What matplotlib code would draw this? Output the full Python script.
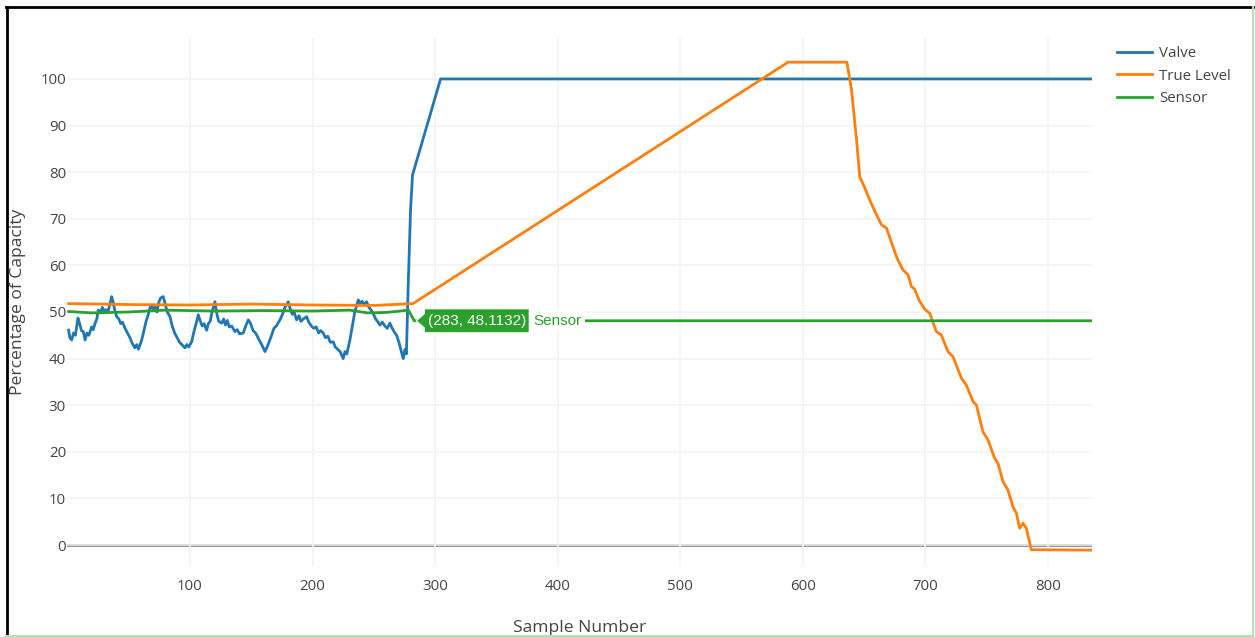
import matplotlib
matplotlib.use("Agg")
import matplotlib.pyplot as plt
import matplotlib.transforms as mtransforms
from matplotlib.lines import Line2D
from matplotlib.patches import Polygon
from matplotlib.ticker import MultipleLocator

# valve: noisy control signal, then jump to fully open
valve_x = [1, 2, 3.5, 5, 6.5, 8.6, 10, 11.5, 13, 14.4, 16, 17.5, 19.8, 21, 22.5, 24, 25.2, 27, 28.5, 30,
           31.5, 33, 34.5, 36.1, 37.5, 38.5, 40.2, 42, 43.5, 45, 47, 49, 51, 53, 55.1, 56.5, 58, 60.6, 62,
           64, 66, 67.5, 68.8, 70, 71.5, 73, 74.5, 76, 78.2, 80, 81.5, 83.7, 85.5, 87.5, 89.5, 91.5, 93.5,
           95.9, 97.5, 99, 101.4, 103, 105, 106.8, 108.5, 110, 111.5, 113.6, 115, 116.5, 118, 120.4, 122,
           123.5, 125.9, 127.5, 129, 130.5, 132, 134, 136.7, 138.5, 140.5, 143.5, 145.5, 147.6, 149.5,
           151.5, 153.5, 155.5, 157.5, 159.5, 161.2, 163, 164.5, 166.6, 168.5, 170.5, 173.4, 175.5, 177.5,
           180.2, 182, 183.5, 185, 187, 189, 190.5, 192.5, 195.2, 197, 199, 201, 203, 205, 206.7, 208.7,
           210.5, 212.5, 214.5, 216.9, 218.5, 220.5, 222.5, 225, 226.5, 228, 230.5, 232.5, 234.5, 237.3,
           239, 240.5, 242, 244.1, 246, 247.5, 249.5, 251.5, 253, 255, 257, 259, 261, 263.1, 265, 266.5,
           268.6, 270.5, 272, 274, 275.5, 276.6, 278, 280, 281.6, 304.5, 835]
valve_y = [46.1, 44.5, 44, 45.5, 45, 48.7, 47.5, 46, 45.8, 44, 45.5, 45, 46.8, 46.2, 47.5, 48.5, 50.4, 49.8,
           51, 50.2, 50.5, 50, 51.5, 53.3, 52, 50.5, 49, 48.5, 47.5, 47.8, 46.5, 45.5, 44.5, 43.2, 42.3, 43,
           42, 44, 45.5, 47.8, 49.5, 51, 51.5, 50.5, 51, 50, 52, 53, 53.3, 51.5, 50, 49, 47, 45.5, 44.5, 43.5,
           43, 42.3, 43, 42.5, 43.6, 45.5, 47.5, 49.4, 48, 47, 47.5, 46.1, 47.5, 48, 50, 52.2, 49.5, 48, 47.6,
           48.5, 47.2, 48.2, 46.8, 47, 45.8, 46.2, 45.3, 45.5, 47, 48.3, 47.5, 46, 45.5, 44.5, 43.5, 42.5,
           41.5, 42.5, 43.5, 45, 46.5, 47, 48.3, 49.5, 51, 52.2, 50.5, 49.5, 50, 48.3, 49.2, 48, 48.5, 49,
           47.8, 47, 46.5, 46.8, 45.5, 46, 45.5, 44.5, 44.8, 43.5, 43.6, 42.5, 42, 41.5, 40, 41.5, 41, 44, 47,
           50, 52.6, 51.8, 52.3, 51.5, 52.2, 51, 50.5, 49.7, 48.5, 48, 47.2, 47.8, 47, 46.5, 47.6, 46.5, 45.8,
           45, 43.5, 42, 40, 42, 41, 55, 72, 79.4, 100, 100]

# true tank level
level_x = [1, 50, 100, 150, 200, 250, 282, 588, 636, 639.8, 643.9, 646.5, 650, 654.7, 659, 664.2, 668.3,
           673.6, 677, 681.8, 685.9, 688.7, 691, 695, 699.5, 703.6, 709, 713, 718.5, 722.6, 729.4, 733.5,
           738.9, 741.7, 747, 751.2, 756.6, 759.3, 763.4, 767.4, 771.5, 774.3, 777, 779.7, 782.4, 786.5, 835]
level_y = [51.8, 51.6, 51.5, 51.7, 51.5, 51.4, 51.8, 103.6, 103.6, 97.6, 86.9, 79, 77, 74, 71.5, 68.7, 68,
           64, 61.5, 59, 58, 55.4, 55, 52.5, 50.6, 49.7, 45.8, 45.1, 41.5, 40.4, 35.8, 34.3, 30.8, 30, 24.3,
           22.5, 18.6, 17.5, 13.6, 11.8, 8.2, 6.8, 3.6, 4.7, 3.6, -1.0, -1.1]

# sensor reading, stuck after sample 283
sensor_x = [1, 20, 50, 80, 120, 160, 200, 230, 245, 260, 275, 278, 283, 835]
sensor_y = [50.1, 49.8, 50.0, 50.4, 50.2, 50.3, 50.2, 50.4, 49.8, 49.9, 50.3, 50.5, 48.1132, 48.1132]

hover_x, hover_y = 283, 48.1132

C_VALVE, C_LEVEL, C_SENSOR = '#1f77b4', '#ff7f0e', '#2ca02c'
TXT = '#444444'
FONT = 'Open Sans'

W, H = 1255, 637
fig = plt.figure(figsize=(W / 100, H / 100), dpi=100)
# plot area in pixels: x 67.4..1092, y 37..566
ax = fig.add_axes([67.4 / W, (H - 566) / H, (1092 - 67.4) / W, (566 - 37) / H])
ax.set_xlim(0, 836)
ax.set_ylim(-4.5, 109)

for s in ax.spines.values():
    s.set_visible(False)

ax.set_xticks(range(100, 801, 100))
ax.set_yticks(range(0, 101, 10))
ax.tick_params(length=0, labelsize=10.8, labelcolor=TXT)
ax.tick_params(axis='x', pad=9.5)
ax.tick_params(axis='y', pad=1)
for lab in ax.get_xticklabels() + ax.get_yticklabels():
    lab.set_fontfamily(FONT)

ax.grid(color='#f3f3f3', lw=1.1, zorder=0)
ax.axhline(0, color='#888888', lw=2, zorder=1)

ax.plot(valve_x, valve_y, color=C_VALVE, lw=2, label='Valve', zorder=3)
ax.plot(level_x, level_y, color=C_LEVEL, lw=2, label='True Level', zorder=3)
ax.plot(sensor_x, sensor_y, color=C_SENSOR, lw=2, label='Sensor', zorder=3)

ax.set_xlabel('Sample Number', fontsize=12.6, color=TXT, fontfamily=FONT, va='center')
ax.xaxis.set_label_coords(0.5, (566 - 628) / 529)
ax.set_ylabel('Percentage of Capacity', fontsize=12.6, color=TXT, fontfamily=FONT, va='center')
ax.yaxis.set_label_coords((18 - 67.4) / 1025, 0.5)

# hover label, drawn in pixel offsets from the hovered point
tr = mtransforms.Affine2D() + mtransforms.ScaledTranslation(hover_x, hover_y, ax.transData)
box = Polygon([(2, 0), (10, 7), (10, 12), (115, 12), (115, -12), (10, -12), (10, -7)],
              closed=True, transform=tr, facecolor=C_SENSOR, edgecolor='white', lw=0.8,
              zorder=6, clip_on=False)
ax.add_patch(box)
ax.text(63, 0, f'({hover_x}, {hover_y})', transform=tr, ha='center', va='center',
        color='white', fontsize=11, fontfamily='Liberation Sans', zorder=7)
ax.text(119, 0, 'Sensor', transform=tr, ha='left', va='center', color=C_SENSOR,
        fontsize=11, fontfamily='Liberation Sans', zorder=7,
        bbox=dict(facecolor='white', edgecolor='none', pad=2.5))

leg = fig.legend(loc='upper left', bbox_to_anchor=(1117 / W, (H - 46) / H), frameon=False,
                 prop={'family': FONT, 'size': 10.8}, handlelength=2.35, handletextpad=0.45,
                 labelspacing=0.5, borderpad=0, borderaxespad=0)
for t in leg.get_texts():
    t.set_color(TXT)

# screenshot frame
def px_line(xs, ys, color, lw):
    fig.add_artist(Line2D([x / W for x in xs], [1 - y / H for y in ys], color=color, lw=lw,
                          transform=fig.transFigure))

px_line([6.5, 6.5], [6.5, 637], 'black', 2)
px_line([6, 1253], [6.5, 6.5], 'black', 2)
px_line([1253, 1253], [7, 635.5], '#b9dcb9', 1.5)
px_line([6, 1253], [635.5, 635.5], '#b9dcb9', 1.5)

fig.savefig('out.png', dpi=100)
